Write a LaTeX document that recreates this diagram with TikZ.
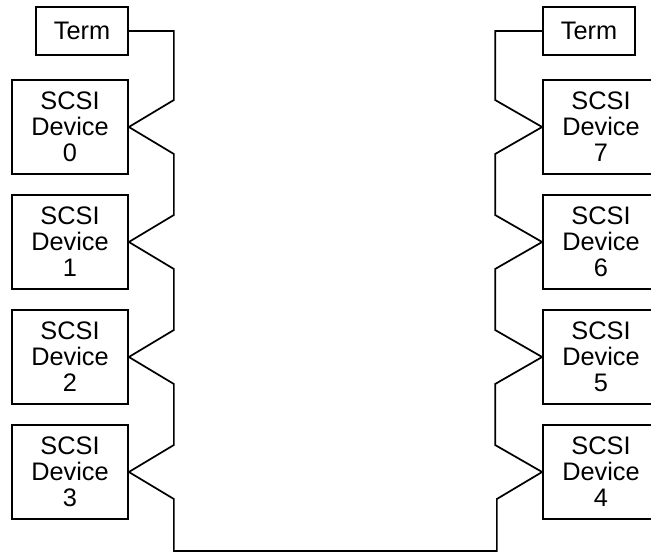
\documentclass[tikz,border=0pt]{standalone}
\usepackage{fontspec}
\setmainfont{Liberation Sans}
\usepackage{tikz}

\begin{document}
\begin{tikzpicture}[x=0.75pt,y=-0.75pt,line width=1.3pt,
  device/.style={draw,align=center,minimum width=87pt,minimum height=70.5pt,
    inner sep=0pt,font=\fontsize{19}{19.5}\selectfont},
  term/.style={draw,minimum width=69pt,minimum height=36pt,inner sep=0pt,
    font=\fontsize{19}{19.5}\selectfont}]
  \useasboundingbox (0,0) rectangle (651,554);
  \clip (0,0) rectangle (651,554);

  %terminators
  \node[term] (termL) at (82,31) {Term};
  \node[term] (termR) at (589,31) {Term};

  %left devices
  \node[device] (dev0) at (70,127) {SCSI\\Device\\0};
  \node[device] (dev1) at (70,242) {SCSI\\Device\\1};
  \node[device] (dev2) at (70,357) {SCSI\\Device\\2};
  \node[device] (dev3) at (70,472) {SCSI\\Device\\3};

  %right devices
  \node[device] (dev7) at (601,127) {SCSI\\Device\\7};
  \node[device] (dev6) at (601,242) {SCSI\\Device\\6};
  \node[device] (dev5) at (601,357) {SCSI\\Device\\5};
  \node[device] (dev4) at (601,472) {SCSI\\Device\\4};

  %cable
  \draw (termL.east) -| ++(45,69) -- (dev0.east)
    -- ++(45,27) -- ++(0,61) -- (dev1.east)
    -- ++(45,27) -- ++(0,61) -- (dev2.east)
    -- ++(45,27) -- ++(0,61) -- (dev3.east)
    -- ++(45,27) -- ++(0,52) -- ++(323,0) -- ++(0,-52) -- (dev4.west)
    -- ++(-47,-27) -- ++(0,-61) -- (dev5.west)
    -- ++(-47,-27) -- ++(0,-61) -- (dev6.west)
    -- ++(-47,-27) -- ++(0,-61) -- (dev7.west)
    -- ++(-47,-27) |- (termR.west);
\end{tikzpicture}
\end{document}
